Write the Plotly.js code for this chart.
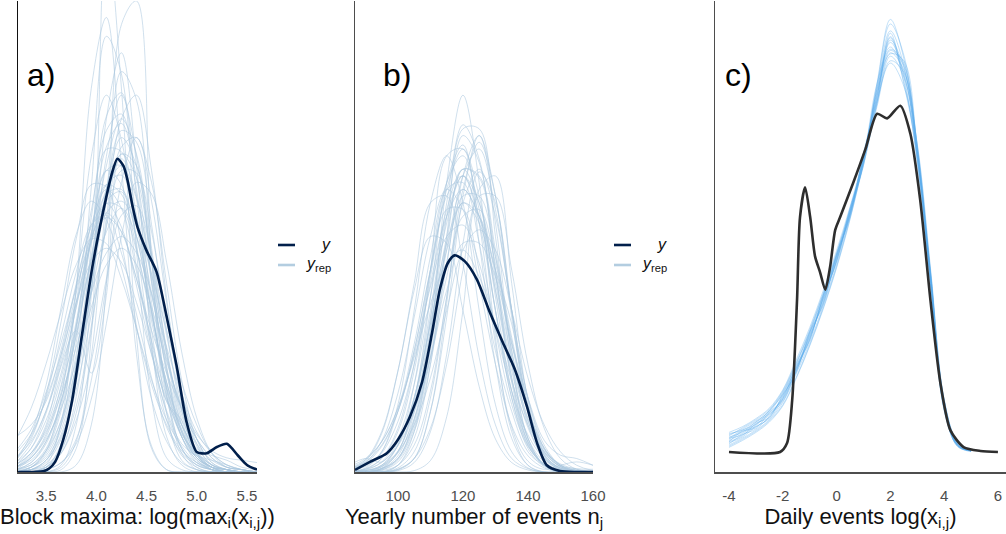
<!DOCTYPE html>
<html>
<head>
<meta charset="utf-8">
<script src="https://cdn.plot.ly/plotly-3.0.1.min.js"></script>
<style>
html,body{margin:0;padding:0;background:#fff;}
#chart{width:1006px;height:534px;}
</style>
</head>
<body>
<div id="chart"></div>
<script>
// ---------- Panel a: block maxima log(max_i(x_ij)) ----------
const gridA = [3.2,3.35,3.5,3.65,3.8,3.95,4.1,4.25,4.4,4.55,4.7,4.85,5.0,5.15,5.3,5.45,5.6];
const repsA = [
  [0.00,0.02,0.06,0.18,0.43,0.81,1.17,1.33,1.17,0.81,0.43,0.18,0.06,0.02,0.00,0,0],
  [0.00,0.02,0.09,0.32,0.78,1.34,1.60,1.41,0.97,0.52,0.22,0.07,0.02,0,0,0,0],
  [0.03,0.08,0.17,0.33,0.53,0.76,0.93,1.00,0.93,0.76,0.53,0.33,0.17,0.08,0.03,0.01,0.00],
  [0.04,0.12,0.26,0.50,0.79,1.04,1.14,1.04,0.79,0.50,0.26,0.12,0.07,0.05,0.03,0.01,0],
  [0,0,0,0.01,0.10,0.58,2.30,1.63,0.58,0.10,0.01,0,0,0,0,0,0],
  [0,0,0,0,0.03,0.20,0.80,1.90,2.00,0.90,0.25,0.05,0.01,0,0,0,0],
  [0.05,0.16,0.37,0.70,1.01,1.15,1.07,0.87,0.61,0.37,0.20,0.09,0.04,0.01,0,0,0],
  [0,0,0.01,0.04,0.14,0.39,0.80,1.23,1.42,1.23,0.80,0.39,0.14,0.04,0.01,0,0],
  [0.02,0.08,0.20,0.45,0.60,0.42,0.75,1.35,1.30,0.80,0.35,0.10,0.03,0.01,0,0,0],
  [0.08,0.16,0.31,0.50,0.72,0.89,0.95,0.89,0.72,0.50,0.31,0.16,0.08,0.03,0.01,0,0],
  [0,0,0.02,0.09,0.32,0.78,1.34,1.60,1.34,0.90,0.45,0.15,0.05,0.01,0,0,0],
  [0.05,0.14,0.33,0.64,0.99,1.22,1.21,0.97,0.62,0.31,0.13,0.04,0.01,0,0,0,0],
  [0.01,0.06,0.16,0.37,0.72,1.11,1.37,1.36,1.09,0.69,0.35,0.15,0.04,0.01,0,0,0],
  [0,0.01,0.05,0.15,0.35,0.67,1.04,1.28,1.27,1.02,0.65,0.33,0.14,0.04,0.01,0,0],
  [0,0,0.03,0.21,0.78,1.63,1.93,1.30,0.50,0.11,0.01,0,0,0,0,0,0],
  [0.01,0.04,0.13,0.30,0.58,0.90,1.15,1.19,1.00,0.68,0.38,0.20,0.10,0.07,0.05,0.02,0.01],
  [0.14,0.27,0.46,0.68,0.88,0.99,0.97,0.82,0.61,0.39,0.22,0.11,0.04,0.02,0.01,0,0],
  [0,0,0,0.02,0.13,0.49,1.16,1.70,1.58,0.91,0.33,0.08,0.01,0,0,0,0],
  [0,0.02,0.09,0.26,0.60,1.01,1.28,1.22,0.87,0.55,0.30,0.20,0.08,0.02,0,0,0],
  [0,0.01,0.02,0.08,0.22,0.47,0.82,1.09,1.13,0.92,0.58,0.29,0.11,0.03,0.01,0,0],
  [0.06,0.15,0.32,0.58,0.85,1.05,1.09,0.93,0.67,0.40,0.19,0.08,0.03,0.01,0,0,0],
  [0,0,0.02,0.12,0.41,0.96,1.51,1.61,1.17,0.60,0.30,0.22,0.08,0.02,0,0,0],
  [0.02,0.06,0.14,0.27,0.47,0.70,0.88,0.95,0.88,0.70,0.47,0.27,0.14,0.06,0.02,0.01,0],
  [0,0,0.02,0.11,0.47,1.21,1.85,1.69,0.94,0.31,0.06,0.01,0,0,0,0,0],
  [0,0,0.01,0.04,0.12,0.31,0.63,1.00,1.23,1.18,0.89,0.51,0.23,0.08,0.02,0.01,0],
  [0.15,0.20,0.30,0.52,0.80,1.05,1.20,1.12,0.85,0.52,0.25,0.10,0.03,0.01,0,0,0],
  [0,0.01,0.05,0.20,0.55,1.00,1.38,1.48,1.25,0.82,0.42,0.17,0.06,0.02,0.01,0,0],
  [0.01,0.03,0.09,0.22,0.45,0.76,1.02,1.12,1.00,0.75,0.48,0.28,0.16,0.09,0.06,0.05,0.04],
  [0,0,0,0.03,0.20,0.75,1.50,1.78,1.30,0.55,0.15,0.03,0,0,0,0,0],
  [0.03,0.10,0.25,0.48,0.76,1.00,1.10,1.02,0.82,0.60,0.42,0.27,0.14,0.06,0.02,0.01,0],
  [0.01,0.04,0.12,0.30,0.62,1.00,1.28,1.30,1.05,0.68,0.36,0.15,0.05,0.01,0,0,0],
  [0.02,0.07,0.19,0.40,0.70,1.02,1.22,1.18,0.95,0.64,0.36,0.17,0.07,0.02,0.01,0,0],
  [0,0.01,0.04,0.14,0.38,0.78,1.20,1.42,1.30,0.92,0.50,0.20,0.06,0.01,0,0,0],
  [0.04,0.10,0.22,0.42,0.70,0.98,1.18,1.20,1.00,0.68,0.38,0.17,0.06,0.02,0,0,0],
  [0,0.02,0.07,0.20,0.45,0.82,1.20,1.45,1.40,1.05,0.60,0.26,0.08,0.02,0,0,0],
  [0.09,0.18,0.34,0.55,0.78,0.98,1.08,1.02,0.82,0.56,0.32,0.15,0.06,0.02,0.01,0,0],
  [0,0.01,0.03,0.10,0.28,0.62,1.05,1.38,1.42,1.15,0.72,0.34,0.12,0.03,0.01,0,0],
  [0.02,0.05,0.13,0.30,0.58,0.92,1.20,1.30,1.16,0.84,0.50,0.26,0.12,0.05,0.02,0.01,0],
  [0.01,0.03,0.10,0.28,0.62,1.08,1.45,1.52,1.20,0.72,0.32,0.10,0.02,0,0,0,0],
  [0.03,0.08,0.18,0.36,0.62,0.90,1.10,1.15,1.05,0.84,0.60,0.38,0.20,0.08,0.03,0.01,0],
  [0,0.01,0.05,0.16,0.40,0.78,1.15,1.35,1.25,0.90,0.52,0.24,0.09,0.03,0.01,0,0],
  [0.06,0.13,0.26,0.46,0.72,0.98,1.14,1.12,0.94,0.66,0.38,0.18,0.07,0.02,0.01,0,0],
  [0,0,0.02,0.08,0.25,0.60,1.08,1.50,1.60,1.28,0.74,0.30,0.08,0.01,0,0,0],
  [0.02,0.06,0.15,0.34,0.64,0.98,1.22,1.26,1.08,0.76,0.44,0.20,0.08,0.03,0.01,0,0],
  [0.01,0.02,0.08,0.22,0.50,0.90,1.30,1.50,1.35,0.95,0.52,0.22,0.07,0.02,0,0,0]
];
const obsAx = [3.22,3.47,3.53,3.59,3.67,3.76,3.86,3.96,4.07,4.15,4.21,4.27,4.31,4.36,4.41,4.50,4.60,4.70,4.80,4.90,5.00,5.10,5.20,5.30,5.41,5.50,5.60];
const obsAy = [0,0.003,0.015,0.043,0.136,0.306,0.59,0.87,1.11,1.26,1.33,1.30,1.24,1.13,1.04,0.94,0.85,0.66,0.45,0.21,0.085,0.08,0.106,0.12,0.07,0.03,0.01];

// ---------- Panel b: yearly number of events n_j ----------
const gridB = [85,90,95,100,105,110,115,120,125,130,135,140,145,150,155,160];
const repsB = [
  [0,0,0.001,0.004,0.011,0.024,0.038,0.044,0.038,0.024,0.011,0.004,0.001,0,0,0],
  [0,0,0,0.0004,0.002,0.009,0.023,0.041,0.050,0.041,0.023,0.009,0.002,0.0004,0,0],
  [0,0,0,0.001,0.006,0.020,0.043,0.056,0.043,0.020,0.006,0.001,0,0,0,0],
  [0,0,0,0.001,0.005,0.016,0.035,0.051,0.051,0.035,0.016,0.005,0.001,0,0,0],
  [0.0002,0.001,0.003,0.009,0.018,0.030,0.039,0.039,0.030,0.018,0.009,0.003,0.001,0.0002,0,0],
  [0,0.0002,0.001,0.003,0.007,0.014,0.024,0.033,0.036,0.033,0.024,0.014,0.007,0.003,0.001,0.0002],
  [0,0.0006,0.003,0.010,0.024,0.040,0.047,0.040,0.024,0.010,0.003,0.0006,0,0,0,0],
  [0,0,0,0.0004,0.002,0.0065,0.016,0.030,0.041,0.041,0.030,0.016,0.0065,0.002,0.0004,0],
  [0.001,0.002,0.0015,0.0044,0.011,0.022,0.033,0.040,0.037,0.027,0.015,0.0066,0.0022,0.0006,0.0001,0],
  [0,0,0.0008,0.004,0.013,0.030,0.047,0.048,0.034,0.016,0.005,0.001,0,0,0,0],
  [0,0.0004,0.0014,0.0039,0.009,0.017,0.027,0.034,0.034,0.029,0.019,0.011,0.0047,0.0025,0.002,0.001],
  [0.0003,0.0016,0.0057,0.015,0.028,0.040,0.041,0.031,0.017,0.007,0.002,0.0005,0,0,0,0],
  [0,0,0,0.0003,0.002,0.009,0.025,0.044,0.050,0.037,0.017,0.005,0.001,0,0,0],
  [0.0006,0.0018,0.0045,0.0095,0.017,0.025,0.031,0.033,0.029,0.022,0.0135,0.007,0.003,0.0012,0.0004,0.0001],
  [0,0,0.0005,0.002,0.007,0.018,0.033,0.042,0.038,0.030,0.022,0.010,0.003,0.0008,0.0002,0],
  [0,0,0,0.0002,0.0014,0.006,0.0175,0.034,0.0446,0.040,0.024,0.0097,0.0027,0.0005,0,0],
  [0.0003,0.0014,0.0046,0.0117,0.023,0.035,0.042,0.039,0.028,0.016,0.0069,0.0024,0.0006,0,0,0],
  [0,0.0002,0.0008,0.0031,0.0092,0.021,0.035,0.045,0.0437,0.032,0.018,0.0077,0.0025,0.0006,0,0],
  [0,0,0.0005,0.003,0.0106,0.026,0.043,0.0486,0.037,0.019,0.0066,0.0016,0.0004,0.001,0.0015,0.001],
  [0,0.0002,0.0008,0.0028,0.0079,0.017,0.029,0.038,0.039,0.031,0.0195,0.0094,0.0036,0.001,0.0002,0],
  [0.0004,0.0018,0.006,0.015,0.027,0.035,0.034,0.024,0.0127,0.0049,0.0014,0.0003,0,0,0,0],
  [0,0,0,0,0.0002,0.0017,0.0082,0.024,0.042,0.044,0.028,0.0106,0.0024,0.0003,0,0],
  [0,0,0.0005,0.0024,0.0088,0.0226,0.040,0.0516,0.0465,0.0296,0.0133,0.0043,0.001,0.0002,0,0],
  [0.0004,0.0013,0.0038,0.009,0.0174,0.0275,0.035,0.0367,0.031,0.0213,0.012,0.0055,0.002,0.0006,0.0002,0],
  [0,0.0003,0.0015,0.005,0.013,0.026,0.039,0.045,0.040,0.027,0.014,0.005,0.0015,0.0003,0,0],
  [0,0,0.0005,0.002,0.0075,0.019,0.034,0.045,0.044,0.033,0.018,0.007,0.002,0.0004,0,0],
  [0.0005,0.0015,0.004,0.009,0.018,0.030,0.041,0.044,0.037,0.024,0.012,0.0045,0.0012,0.0002,0,0],
  [0,0,0.0003,0.0015,0.006,0.016,0.031,0.044,0.048,0.039,0.024,0.011,0.0035,0.0008,0.0001,0],
  [0,0.0005,0.002,0.006,0.015,0.029,0.042,0.048,0.041,0.026,0.012,0.004,0.001,0.0002,0,0],
  [0,0,0.0002,0.001,0.004,0.012,0.026,0.040,0.045,0.038,0.024,0.011,0.004,0.001,0.0002,0],
  [0.0002,0.0008,0.0028,0.0075,0.016,0.028,0.038,0.042,0.038,0.028,0.016,0.0075,0.0028,0.0008,0.0002,0],
  [0,0,0.0004,0.002,0.0078,0.021,0.038,0.050,0.046,0.030,0.014,0.0045,0.001,0.0002,0,0],
  [0,0.0002,0.001,0.004,0.011,0.022,0.034,0.040,0.038,0.030,0.019,0.009,0.0033,0.001,0.0003,0.0001],
  [0,0,0,0.0006,0.003,0.011,0.026,0.042,0.049,0.041,0.024,0.009,0.0025,0.0005,0,0],
  [0.0008,0.002,0.0045,0.0095,0.019,0.032,0.042,0.043,0.034,0.021,0.010,0.0038,0.0012,0.0003,0,0],
  [0,0,0.0003,0.0018,0.0065,0.017,0.031,0.041,0.041,0.032,0.020,0.0095,0.0035,0.001,0.0005,0.0004],
  [0,0.0004,0.002,0.0065,0.016,0.030,0.043,0.047,0.039,0.024,0.011,0.0035,0.0008,0.0001,0,0],
  [0,0,0.0006,0.003,0.010,0.023,0.037,0.044,0.040,0.029,0.017,0.008,0.003,0.0008,0.0002,0]
];
const obsBx = [86.8,91.4,96.6,100,103.7,107.4,110.5,112.9,115.4,117.5,120.6,124.3,128.3,132.3,136,139.7,142.8,145.8,149.8,155,160];
const obsBy = [0.0003,0.0015,0.0028,0.0048,0.0082,0.0133,0.0207,0.0271,0.0311,0.0322,0.0313,0.0286,0.0237,0.0192,0.0152,0.0097,0.0043,0.001,0.00015,0,0];

// ---------- Panel c: daily events log(x_ij) ----------
const gridC = [-4,-3.5,-3,-2.5,-2,-1.5,-1,-0.5,0,0.5,1,1.5,2,2.5,3,3.5,4,4.5,5];
const repsC = [
  [0.017,0.022,0.029,0.038,0.054,0.080,0.108,0.140,0.175,0.213,0.256,0.305,0.338,0.318,0.255,0.152,0.045,0.008,0.001],
  [0.005,0.011,0.018,0.027,0.041,0.065,0.093,0.125,0.161,0.203,0.252,0.318,0.372,0.345,0.265,0.150,0.038,0.005,0.001],
  [0.012,0.019,0.024,0.036,0.050,0.070,0.104,0.128,0.172,0.204,0.260,0.306,0.360,0.322,0.262,0.146,0.042,0.006,0.001],
  [0.008,0.013,0.022,0.029,0.046,0.075,0.097,0.136,0.165,0.212,0.249,0.315,0.350,0.338,0.256,0.154,0.039,0.007,0.001],
  [0.015,0.020,0.027,0.035,0.051,0.076,0.105,0.137,0.172,0.211,0.253,0.302,0.344,0.326,0.268,0.158,0.046,0.008,0.001],
  [0.006,0.012,0.019,0.028,0.043,0.068,0.095,0.127,0.163,0.205,0.255,0.316,0.366,0.336,0.254,0.144,0.036,0.005,0.0005],
  [0.011,0.018,0.021,0.034,0.045,0.073,0.099,0.133,0.166,0.210,0.251,0.312,0.346,0.340,0.263,0.149,0.041,0.006,0.001],
  [0.009,0.014,0.025,0.030,0.049,0.069,0.102,0.130,0.170,0.206,0.258,0.308,0.364,0.320,0.258,0.152,0.040,0.006,0.001],
  [0.013,0.017,0.026,0.033,0.044,0.071,0.098,0.134,0.169,0.208,0.254,0.320,0.352,0.328,0.260,0.147,0.039,0.006,0.001],
  [0.007,0.015,0.020,0.031,0.048,0.074,0.101,0.129,0.167,0.207,0.257,0.304,0.358,0.334,0.264,0.151,0.043,0.007,0.001],
  [0.014,0.021,0.028,0.037,0.053,0.078,0.106,0.138,0.173,0.209,0.250,0.300,0.340,0.330,0.262,0.155,0.044,0.007,0.001],
  [0.004,0.010,0.017,0.026,0.040,0.064,0.092,0.124,0.160,0.202,0.253,0.320,0.376,0.342,0.258,0.146,0.037,0.005,0.0005],
  [0.010,0.016,0.024,0.032,0.047,0.072,0.100,0.131,0.168,0.209,0.256,0.310,0.356,0.330,0.259,0.150,0.040,0.006,0.001],
  [0.012,0.015,0.023,0.034,0.046,0.070,0.103,0.133,0.166,0.206,0.252,0.309,0.349,0.336,0.266,0.153,0.042,0.006,0.001],
  [0.009,0.018,0.022,0.030,0.050,0.073,0.097,0.135,0.171,0.211,0.255,0.313,0.361,0.326,0.251,0.145,0.038,0.005,0.001],
  [0.016,0.019,0.026,0.036,0.052,0.077,0.104,0.136,0.170,0.207,0.249,0.303,0.347,0.332,0.267,0.156,0.045,0.008,0.001]
];
const obsCx = [-4,-2.1,-1.84,-1.65,-1.47,-1.36,-1.17,-0.98,-0.8,-0.61,-0.42,-0.24,-0.05,0.13,0.62,1.07,1.51,1.88,2.37,2.74,3.11,3.49,3.86,4.23,4.72,5.35,6.0];
const obsCy = [0,0,0.0078,0.045,0.132,0.204,0.230,0.204,0.170,0.156,0.141,0.161,0.193,0.204,0.234,0.263,0.294,0.290,0.301,0.277,0.219,0.132,0.060,0.019,0.0043,0.0009,0];

const panelLabels = ['a)', 'b)', 'c)'];
const axisTitles = [
  'Block maxima: log(max<sub>i</sub>(x<sub>i,j</sub>))',
  'Yearly number of events n<sub>j</sub>',
  'Daily events log(x<sub>i,j</sub>)'
];
const ticksA = [3.5,4.0,4.5,5.0,5.5];
const tickTextA = ['3.5','4.0','4.5','5.0','5.5'];
const ticksB = [100,120,140,160];
const tickTextB = ['100','120','140','160'];
const ticksC = [-4,-2,0,2,4,6];
const tickTextC = ['-4','-2','0','2','4','6'];
const legendLabels = ['<i>y</i>', '<i>y</i><sub>rep</sub>'];

// ---------- styles ----------
const FONT = 'Liberation Sans, Arial, Helvetica, sans-serif';
const W = 1006, H = 534;
const px = v => v / W;
const py = v => (H - v) / H;

const traces = [];
function addReps(grid, reps, color, width, xa, ya) {
  reps.forEach(r => traces.push({
    x: grid, y: r, type: 'scatter', mode: 'lines', xaxis: xa, yaxis: ya,
    line: {color: color, width: width, shape: 'spline', smoothing: 1},
    hoverinfo: 'skip', showlegend: false
  }));
}
function addObs(x, y, color, xa, ya) {
  traces.push({
    x: x, y: y, type: 'scatter', mode: 'lines', xaxis: xa, yaxis: ya,
    line: {color: color, width: 2.6, shape: 'spline', smoothing: 0.7},
    hoverinfo: 'skip', showlegend: false
  });
}
const repLight = 'rgba(170,199,222,0.62)';
const obsDark = '#011f4b';
addReps(gridA, repsA, repLight, 0.9, 'x', 'y');
addObs(obsAx, obsAy, obsDark, 'x', 'y');
addReps(gridB, repsB, repLight, 0.9, 'x2', 'y2');
addObs(obsBx, obsBy, obsDark, 'x2', 'y2');
addReps(gridC, repsC, 'rgba(86,168,235,0.35)', 1, 'x3', 'y3');
addObs(obsCx, obsCy, '#2e2e2e', 'x3', 'y3');

const yDom = [py(472), py(1)];
function xAxis(dom, range, tv, tt, title) {
  return {
    domain: dom, range: range, tickvals: tv, ticktext: tt,
    showgrid: false, zeroline: false, showline: true, linecolor: '#4d4d4d', linewidth: 1.6,
    ticks: '', ticklabelstandoff: 9,
    tickfont: {family: FONT, size: 15, color: '#4d4d4d'},
    title: {text: title, font: {family: FONT, size: 22, color: '#111'}, standoff: 5},
    fixedrange: true
  };
}
function yAxis(anchor, range, col) {
  return {
    domain: yDom, anchor: anchor, range: range,
    showgrid: false, zeroline: false, showline: true, linecolor: col, linewidth: 1.2,
    showticklabels: false, ticks: '', fixedrange: true
  };
}

const layout = {
  width: W, height: H,
  margin: {l: 0, r: 0, t: 0, b: 0},
  paper_bgcolor: '#fff', plot_bgcolor: '#fff',
  showlegend: false,
  font: {family: FONT},
  xaxis: Object.assign(xAxis([px(18), px(257)], [3.22, 5.6], ticksA, tickTextA, axisTitles[0]), {anchor: 'y'}),
  yaxis: yAxis('x', [0, 2.0], '#111'),
  xaxis2: Object.assign(xAxis([px(355), px(593)], [86.8, 160], ticksB, tickTextB, axisTitles[1]), {anchor: 'y2'}),
  yaxis2: yAxis('x2', [0, 0.07], '#4d4d4d'),
  xaxis3: Object.assign(xAxis([px(715), 1], [-4.52, 6.3], ticksC, tickTextC, axisTitles[2]), {anchor: 'y3'}),
  yaxis3: yAxis('x3', [-0.0174, 0.392], '#4d4d4d'),
  annotations: [],
  shapes: []
};

// panel letters
[[25, 'a)'], [381, 'b)'], [723, 'c)']].forEach((p, i) => {
  layout.annotations.push({
    xref: 'paper', yref: 'paper', x: px(p[0]), y: py(75), xanchor: 'left', yanchor: 'middle',
    text: panelLabels[i], showarrow: false, font: {family: FONT, size: 32, color: '#000'}
  });
});

// legends for panels a and b
[[278, 295, 333], [614, 631, 669]].forEach(l => {
  layout.shapes.push({type: 'line', xref: 'paper', yref: 'paper', x0: px(l[0]), x1: px(l[1]), y0: py(245), y1: py(245),
    line: {color: obsDark, width: 2.6}});
  layout.shapes.push({type: 'line', xref: 'paper', yref: 'paper', x0: px(l[0]), x1: px(l[1]), y0: py(265), y1: py(265),
    line: {color: '#b3cde0', width: 2.6}});
  layout.annotations.push({xref: 'paper', yref: 'paper', x: px(l[2]), y: py(244), xanchor: 'right', yanchor: 'middle',
    text: legendLabels[0], showarrow: false, font: {family: FONT, size: 16, color: '#111'}});
  layout.annotations.push({xref: 'paper', yref: 'paper', x: px(l[2]), y: py(264), xanchor: 'right', yanchor: 'middle',
    text: legendLabels[1], showarrow: false, font: {family: FONT, size: 16, color: '#111'}});
});

Plotly.newPlot('chart', traces, layout, {staticPlot: true, displayModeBar: false});
</script>
</body>
</html>
